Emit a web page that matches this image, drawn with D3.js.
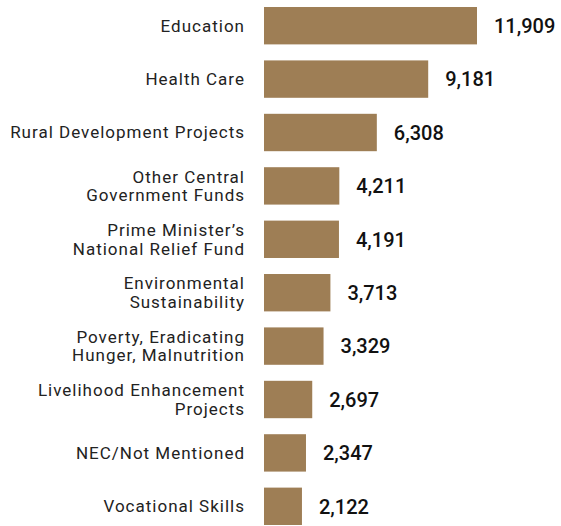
<!DOCTYPE html>
<html><head><meta charset="utf-8">
<script src="https://cdn.jsdelivr.net/npm/d3@7"></script>
<style>body{margin:0;background:#fff}svg{display:block}</style>
</head><body>
<svg id="c" width="561" height="526"></svg>
<script>
const categories = [
  ["Education"],
  ["Health Care"],
  ["Rural Development Projects"],
  ["Other Central", "Government Funds"],
  ["Prime Minister\u2019s", "National Relief Fund"],
  ["Environmental", "Sustainability"],
  ["Poverty, Eradicating", "Hunger, Malnutrition"],
  ["Livelihood Enhancement", "Projects"],
  ["NEC/Not Mentioned"],
  ["Vocational Skills"]
];
const values = [11909, 9181, 6308, 4211, 4191, 3713, 3329, 2697, 2347, 2122];

const svg = d3.select("#c");
const x = d3.scaleLinear().domain([0, 11909]).range([264, 477]);
const y = d3.scaleBand().domain(d3.range(categories.length)).range([-1, 533]).paddingInner(0.3).paddingOuter(0.15);

svg.selectAll("rect.bar").data(values).join("rect")
  .attr("class", "bar")
  .attr("x", x(0))
  .attr("y", (d, i) => y(i))
  .attr("width", d => x(d) - x(0))
  .attr("height", y.bandwidth())
  .attr("fill", "#9e7e55");

svg.selectAll("text.val").data(values).join("text")
  .attr("class", "val")
  .attr("x", d => x(d) + 17)
  .attr("y", (d, i) => y(i) + y.bandwidth() / 2)
  .attr("dy", "0.36em")
  .attr("font-family", "Roboto, sans-serif")
  .attr("font-size", 20)
  .attr("font-weight", 500)
  .attr("fill", "#111")
  .text(d => d3.format(",")(d));

const lab = svg.selectAll("text.cat").data(categories).join("text")
  .attr("class", "cat")
  .attr("text-anchor", "end")
  .attr("font-family", "Roboto, sans-serif")
  .attr("font-size", 17)
  .attr("letter-spacing", "1px")
  .attr("fill", "#222");
lab.each(function(lines, i) {
  const cy = y(i) + y.bandwidth() / 2;
  const lh = 18.5;
  const t = d3.select(this);
  lines.forEach((ln, k) => {
    t.append("tspan")
      .attr("x", 245)
      .attr("y", cy + (k - (lines.length - 1) / 2) * lh)
      .attr("dy", "0.35em")
      .text(ln);
  });
});
</script>
</body></html>
